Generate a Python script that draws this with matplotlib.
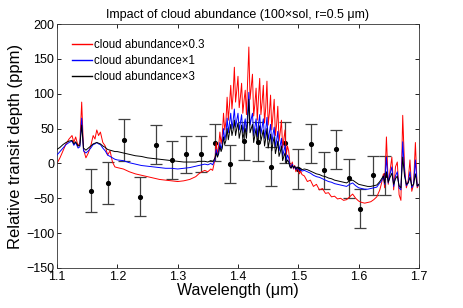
import numpy as np
import matplotlib
matplotlib.use("Agg")
import matplotlib.pyplot as plt

plt.rcParams['font.family'] = ['Liberation Sans', 'DejaVu Sans']

# ---- observed points (wavelength um, depth ppm, 1-sigma ppm) ----
obs_wl = [1.156, 1.184, 1.211, 1.238, 1.264, 1.290, 1.314, 1.339, 1.362, 1.387, 1.410,
          1.433, 1.455, 1.478, 1.499, 1.521, 1.542, 1.563, 1.584, 1.603, 1.624, 1.644]
obs_depth = [-39, -28, 34, -48, 27, 5, 13, 14, 30, -1, 32,
             31, -5, 30, -8, 28, -10, 20, -21, -65, -17, -17]
obs_err = [31, 30, 30, 28, 28, 27, 27, 26, 27, 27, 27,
           28, 28, 29, 28, 28, 26, 28, 28, 28, 28, 28]

# ---- model spectra, common wavelength grid ----
model_wl = [
    # 1.10 - 1.20
    1.100, 1.105, 1.110, 1.115, 1.120, 1.125, 1.128, 1.131, 1.135, 1.138, 1.141, 1.144,
    1.148, 1.152, 1.156, 1.160, 1.163, 1.166, 1.169, 1.172, 1.176, 1.180, 1.184, 1.188,
    1.192, 1.196,
    # 1.20 - 1.355
    1.20, 1.21, 1.22, 1.23, 1.24, 1.25, 1.26, 1.27, 1.28, 1.29, 1.30, 1.31, 1.32, 1.33,
    1.335, 1.340, 1.345, 1.350, 1.355,
    # 1.358 - 1.506 (water band)
    1.358, 1.360, 1.362, 1.364, 1.366, 1.368, 1.370, 1.372, 1.374, 1.376,
    1.378, 1.380, 1.382, 1.384, 1.386, 1.388, 1.390, 1.392, 1.394, 1.396,
    1.398, 1.400, 1.402, 1.404, 1.406, 1.408, 1.410, 1.412, 1.414, 1.416,
    1.418, 1.420, 1.422, 1.424, 1.426, 1.428, 1.430, 1.432, 1.434, 1.436,
    1.438, 1.440, 1.442, 1.444, 1.446, 1.448, 1.450, 1.452, 1.454, 1.456,
    1.458, 1.460, 1.462, 1.464, 1.466, 1.468, 1.470, 1.472, 1.474, 1.476,
    1.478, 1.480, 1.482, 1.484, 1.486, 1.488, 1.490, 1.492, 1.494, 1.496,
    1.498, 1.500, 1.502, 1.504, 1.506,
    # 1.51 - 1.635
    1.510, 1.515, 1.520, 1.525, 1.530, 1.535, 1.540, 1.545, 1.550, 1.555,
    1.560, 1.565, 1.570, 1.575, 1.580, 1.585, 1.590, 1.595, 1.600, 1.605,
    1.610, 1.615, 1.620, 1.625, 1.630, 1.635,
    # 1.638 - 1.70
    1.638, 1.641, 1.643, 1.646, 1.649, 1.652, 1.655, 1.658, 1.661, 1.664, 1.667, 1.670,
    1.673, 1.676, 1.679, 1.682, 1.685, 1.688, 1.691, 1.694, 1.697, 1.700,
]

cloud_x03 = [
    0, 8, 18, 28, 35, 40, 30, 38, 25, 30, 88, 20,
    8, 15, 25, 40, 35, 48, 40, 45, 30, 25, 12, 18,
    2, -5,
    -6, -8, -12, -15, -17, -19, -21, -23, -24, -25, -26, -25, -23, -19,
    -15, -12, -10, -12, -8,
    -10, -2, 8, 30, 12, 25, 45, 28, 40, 72,
    48, 60, 95, 62, 85, 112, 78, 100, 138, 88,
    105, 125, 80, 95, 115, 72, 90, 105, 70, 120,
    167, 92, 110, 128, 68, 85, 108, 62, 95, 122,
    70, 88, 112, 58, 80, 118, 55, 72, 98, 48,
    70, 92, 40, 55, 82, 32, 45, 62, 22, 35,
    48, 12, 25, 18, 0, -6, 2, -8, -3, -12,
    -6, -10, -15, -11, -16,
    -18, -26, -24, -33, -30, -38, -36, -43, -42, -48,
    -47, -51, -50, -53, -52, -48, -44, -50, -54, -56,
    -57, -56, -55, -52, -48, -38,
    -28, -15, -35, 38, -30, -10, 9, -38, -5, 2, -45, -53,
    69, -5, -35, -25, 5, -40, -30, 30, -35, -30,
]

cloud_x1 = [
    12, 17, 22, 27, 30, 32, 26, 30, 22, 24, 65, 18,
    15, 18, 22, 27, 28, 30, 28, 27, 22, 18, 12, 10,
    8, 6,
    5, 4, 1, -1, -3, -4, -5, -6, -7, -7, -8, -7, -6, -4,
    -3, -2, -1, -2, 0,
    -2, 2, 6, 20, 10, 18, 30, 20, 28, 50,
    34, 42, 65, 44, 58, 72, 50, 62, 78, 52,
    62, 72, 48, 58, 70, 44, 55, 64, 45, 72,
    102, 55, 64, 72, 40, 52, 64, 38, 56, 70,
    42, 52, 64, 36, 48, 66, 34, 44, 56, 28,
    42, 52, 24, 33, 46, 18, 26, 36, 10, 18,
    26, 4, 12, 8, -3, -6, -1, -7, -4, -9,
    -6, -8, -10, -8, -11,
    -10, -12, -14, -17, -19, -20, -22, -24, -26, -27,
    -29, -30, -31, -32, -33, -30, -28, -32, -35, -36,
    -37, -37, -36, -35, -34, -28,
    -25, -18, -30, 9, -28, -15, -5, -33, -18, -12, -35, -38,
    31, -12, -32, -28, -12, -35, -30, 5, -33, -30,
]

cloud_x3 = [
    20, 23, 27, 30, 32, 33, 28, 31, 25, 26, 55, 22,
    19, 22, 25, 28, 29, 30, 29, 28, 25, 23, 20, 19,
    18, 17,
    17, 15, 13, 11, 10, 8, 7, 6, 5, 4, 3, 2, 2, 2,
    3, 3, 3, 2, 4,
    3, 5, 8, 15, 9, 14, 25, 17, 22, 38,
    27, 33, 50, 34, 45, 56, 40, 48, 62, 40,
    50, 58, 36, 45, 55, 34, 44, 50, 36, 60,
    92, 44, 50, 56, 30, 40, 50, 28, 42, 54,
    32, 40, 48, 25, 36, 50, 22, 32, 42, 18,
    30, 38, 14, 22, 32, 10, 16, 25, 4, 10,
    15, 0, 5, 2, -5, -7, -3, -6, -4, -8,
    -5, -7, -8, -7, -9,
    -8, -9, -11, -13, -15, -16, -18, -19, -21, -22,
    -24, -25, -26, -27, -28, -25, -24, -27, -30, -31,
    -32, -33, -33, -32, -31, -26,
    -22, -18, -28, -12, -27, -20, -14, -30, -22, -18, -32, -35,
    9, -18, -30, -28, -20, -32, -30, -15, -32, -30,
]

fig = plt.figure(figsize=(4.63, 3.08), dpi=100)
ax = fig.add_axes([0.123, 0.130, 0.782, 0.792])

ax.errorbar(obs_wl, obs_depth, yerr=obs_err, fmt='o', color='black', ecolor='0.25',
            markersize=2.7, elinewidth=0.9, capsize=4.5, capthick=0.9, zorder=1)

ax.plot(model_wl, cloud_x03, color='red', lw=0.7, label='cloud abundance×0.3', zorder=2)
ax.plot(model_wl, cloud_x1, color='blue', lw=0.7, label='cloud abundance×1', zorder=3)
ax.plot(model_wl, cloud_x3, color='black', lw=0.7, label='cloud abundance×3', zorder=4)

ax.set_xlim(1.1, 1.7)
ax.set_ylim(-150, 200)
ax.set_xticks([1.1, 1.2, 1.3, 1.4, 1.5, 1.6, 1.7])
ax.set_yticks([-150, -100, -50, 0, 50, 100, 150, 200])
ax.tick_params(direction='in', top=True, right=True, labelsize=9, length=3, width=0.6,
               pad=2)
for s in ax.spines.values():
    s.set_linewidth(0.6)
    s.set_color('0.2')

ax.set_xlabel('Wavelength (μm)', fontsize=11.5, labelpad=0)
ax.set_ylabel('Relative transit depth (ppm)', fontsize=12, labelpad=2)
ax.set_title('Impact of cloud abundance (100×sol, r=0.5 μm)', fontsize=9, pad=4)

leg = ax.legend(loc='upper left', frameon=False, fontsize=8.3, handlelength=1.7,
                handletextpad=0.2, labelspacing=0.35, borderaxespad=0.9)
for h in leg.get_lines():
    h.set_linewidth(1.0)

fig.savefig('out.png', dpi=100)
